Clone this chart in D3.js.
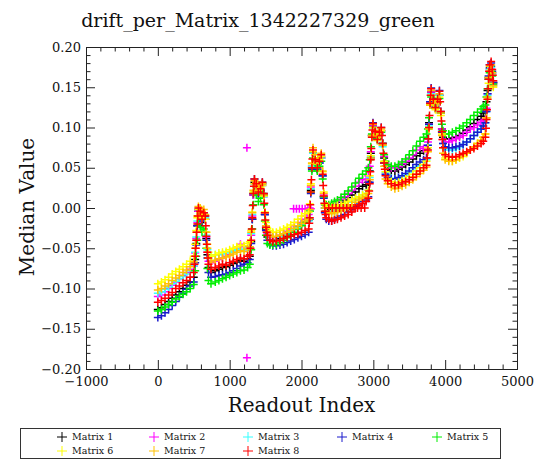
<!DOCTYPE html>
<html>
<head>
<meta charset="utf-8">
<script src="https://cdn.jsdelivr.net/npm/d3@7"></script>
<style>
  body { margin: 0; background: #fff; }
  text { font-family: "DejaVu Serif", serif; fill: #111; }
</style>
</head>
<body>
<svg width="535" height="459"></svg>
<script>
// readout index sampled along the curve (denser on the spikes)
const readout = [
  0, 50, 100, 150, 200, 250, 300, 350, 400, 450, 500,
  520, 535, 550, 565, 590, 615, 640, 660, 675, 690, 705,
  740, 800, 850, 900, 950, 1000, 1050, 1100, 1150, 1200, 1250,
  1280, 1300, 1315, 1330, 1345, 1370, 1400, 1430, 1455, 1475, 1490, 1505, 1525,
  1560, 1600, 1650, 1700, 1750, 1800, 1850, 1900, 1950, 2000, 2050, 2100,
  2115, 2130, 2145, 2160, 2190, 2220, 2250, 2275, 2295, 2310, 2325, 2345,
  2380, 2420, 2460, 2500, 2550, 2600, 2650, 2700, 2750, 2800, 2850, 2900,
  2930, 2950, 2965, 2980, 2995, 3025, 3055, 3085, 3110, 3130, 3150, 3170,
  3200, 3250, 3300, 3350, 3400, 3450, 3500, 3550, 3600, 3650, 3700, 3740,
  3760, 3775, 3790, 3805, 3835, 3865, 3895, 3920, 3940, 3955, 3970,
  4000, 4050, 4100, 4150, 4200, 4250, 4300, 4350, 4400, 4450, 4500, 4530, 4560,
  4575, 4590, 4605, 4620, 4640, 4655, 4670
];

const m1 = [
  -0.126,-0.124,-0.120,-0.116,-0.112,-0.108,-0.104,-0.100,-0.096,-0.092,-0.086,
  -0.064,-0.044,-0.022,-0.004,-0.008,-0.018,-0.010,-0.014,-0.038,-0.058,-0.074,
  -0.080,-0.078,-0.076,-0.074,-0.073,-0.071,-0.069,-0.067,-0.065,-0.066,-0.063,
  -0.060,-0.042,-0.014,0.016,0.032,0.026,0.018,0.022,0.030,0.016,-0.008,-0.026,-0.036,
  -0.040,-0.041,-0.040,-0.038,-0.035,-0.032,-0.029,-0.026,-0.023,-0.020,-0.017,-0.015,
  -0.004,0.022,0.050,0.068,0.058,0.048,0.056,0.062,0.040,0.014,0.000,-0.004,
  -0.002,0.000,0.002,0.004,0.007,0.010,0.013,0.016,0.020,0.024,0.027,0.029,
  0.032,0.046,0.068,0.090,0.102,0.094,0.086,0.092,0.096,0.080,0.062,0.052,
  0.048,0.046,0.046,0.048,0.051,0.054,0.057,0.061,0.065,0.068,0.071,0.074,
  0.086,0.106,0.130,0.144,0.132,0.124,0.132,0.140,0.118,0.098,0.088,
  0.086,0.086,0.087,0.088,0.090,0.093,0.097,0.101,0.105,0.110,0.114,0.118,0.120,
  0.132,0.146,0.162,0.174,0.176,0.168,0.156
];
const m2 = [
  -0.110,-0.108,-0.104,-0.100,-0.096,-0.092,-0.088,-0.084,-0.080,-0.076,-0.072,
  -0.056,-0.038,-0.018,-0.004,-0.008,-0.016,-0.010,-0.014,-0.036,-0.055,-0.066,
  -0.068,-0.066,-0.064,-0.062,-0.060,-0.058,-0.055,-0.050,-0.045,-0.048,-0.052,
  -0.050,-0.034,-0.010,0.016,0.030,0.026,0.018,0.022,0.028,0.014,-0.008,-0.024,-0.032,
  -0.036,-0.037,-0.036,-0.034,-0.032,-0.029,-0.026,-0.022,-0.018,-0.014,-0.010,-0.008,
  0.000,0.026,0.052,0.068,0.058,0.050,0.056,0.062,0.040,0.016,0.004,0.002,
  0.002,0.004,0.006,0.008,0.011,0.014,0.018,0.022,0.027,0.032,0.035,0.036,
  0.040,0.052,0.070,0.090,0.102,0.094,0.086,0.092,0.096,0.080,0.064,0.056,
  0.052,0.050,0.050,0.052,0.055,0.058,0.062,0.066,0.072,0.076,0.074,0.072,
  0.082,0.104,0.130,0.144,0.132,0.124,0.132,0.140,0.118,0.098,0.085,
  0.082,0.082,0.084,0.086,0.088,0.090,0.094,0.098,0.100,0.103,0.106,0.108,0.110,
  0.124,0.142,0.160,0.172,0.174,0.166,0.154
];
const m3 = [
  -0.106,-0.104,-0.101,-0.098,-0.094,-0.091,-0.088,-0.085,-0.082,-0.078,-0.072,
  -0.055,-0.036,-0.016,-0.002,-0.006,-0.014,-0.008,-0.012,-0.034,-0.052,-0.062,
  -0.060,-0.058,-0.058,-0.057,-0.056,-0.055,-0.053,-0.052,-0.051,-0.052,-0.050,
  -0.048,-0.032,-0.008,0.018,0.030,0.026,0.018,0.022,0.028,0.014,-0.008,-0.022,-0.030,
  -0.034,-0.036,-0.036,-0.035,-0.033,-0.031,-0.029,-0.027,-0.024,-0.021,-0.018,-0.016,
  -0.004,0.024,0.052,0.068,0.058,0.050,0.056,0.062,0.040,0.014,0.000,-0.004,
  -0.004,-0.004,-0.003,-0.002,0.000,0.002,0.004,0.007,0.010,0.013,0.016,0.018,
  0.022,0.038,0.064,0.088,0.100,0.092,0.084,0.090,0.094,0.076,0.056,0.044,
  0.040,0.037,0.036,0.037,0.039,0.041,0.044,0.047,0.051,0.053,0.057,0.060,
  0.078,0.102,0.130,0.142,0.132,0.124,0.132,0.140,0.118,0.096,0.080,
  0.074,0.072,0.072,0.074,0.076,0.079,0.082,0.086,0.090,0.094,0.098,0.102,0.106,
  0.120,0.140,0.160,0.172,0.175,0.166,0.152
];
const m4 = [
  -0.136,-0.134,-0.130,-0.126,-0.121,-0.116,-0.111,-0.106,-0.101,-0.097,-0.092,
  -0.068,-0.046,-0.022,-0.002,-0.006,-0.016,-0.006,-0.010,-0.040,-0.062,-0.080,
  -0.086,-0.085,-0.084,-0.083,-0.082,-0.080,-0.078,-0.075,-0.072,-0.070,-0.068,
  -0.064,-0.044,-0.014,0.018,0.036,0.028,0.018,0.022,0.032,0.018,-0.008,-0.028,-0.040,
  -0.045,-0.047,-0.047,-0.046,-0.045,-0.043,-0.041,-0.039,-0.037,-0.035,-0.033,-0.030,
  -0.014,0.018,0.048,0.070,0.058,0.048,0.056,0.064,0.040,0.012,-0.006,-0.014,
  -0.016,-0.016,-0.014,-0.012,-0.010,-0.008,-0.005,-0.002,0.002,0.005,0.008,0.010,
  0.014,0.032,0.062,0.090,0.106,0.096,0.086,0.094,0.100,0.080,0.056,0.042,
  0.038,0.036,0.036,0.038,0.040,0.043,0.046,0.050,0.054,0.057,0.060,0.062,
  0.078,0.104,0.132,0.149,0.136,0.126,0.136,0.146,0.120,0.094,0.080,
  0.076,0.075,0.075,0.076,0.077,0.079,0.082,0.086,0.090,0.094,0.098,0.102,0.106,
  0.120,0.142,0.164,0.178,0.180,0.170,0.156
];
const m5 = [
  -0.128,-0.126,-0.123,-0.120,-0.117,-0.113,-0.110,-0.107,-0.104,-0.100,-0.095,
  -0.078,-0.060,-0.040,-0.020,-0.024,-0.030,-0.026,-0.030,-0.050,-0.075,-0.090,
  -0.094,-0.092,-0.090,-0.088,-0.086,-0.084,-0.082,-0.080,-0.078,-0.077,-0.074,
  -0.070,-0.052,-0.026,0.004,0.020,0.016,0.008,0.012,0.018,0.004,-0.016,-0.034,-0.044,
  -0.046,-0.046,-0.045,-0.043,-0.040,-0.037,-0.034,-0.030,-0.026,-0.022,-0.018,-0.014,
  -0.004,0.020,0.046,0.062,0.054,0.046,0.052,0.058,0.036,0.014,0.004,0.004,
  0.004,0.006,0.008,0.010,0.013,0.017,0.021,0.026,0.031,0.037,0.042,0.046,
  0.050,0.060,0.076,0.092,0.100,0.092,0.086,0.090,0.094,0.080,0.066,0.058,
  0.054,0.052,0.052,0.054,0.057,0.061,0.066,0.071,0.077,0.083,0.088,0.092,
  0.098,0.112,0.128,0.138,0.130,0.124,0.130,0.136,0.118,0.104,0.096,
  0.092,0.092,0.094,0.096,0.099,0.102,0.106,0.110,0.115,0.119,0.123,0.126,0.128,
  0.138,0.148,0.160,0.168,0.170,0.164,0.154
];
const m6 = [
  -0.094,-0.092,-0.089,-0.086,-0.082,-0.079,-0.076,-0.073,-0.070,-0.066,-0.060,
  -0.045,-0.028,-0.012,-0.002,-0.006,-0.012,-0.008,-0.014,-0.030,-0.045,-0.055,
  -0.060,-0.058,-0.056,-0.055,-0.054,-0.052,-0.050,-0.048,-0.046,-0.047,-0.044,
  -0.042,-0.028,-0.005,0.020,0.030,0.028,0.022,0.025,0.028,0.015,-0.005,-0.018,-0.025,
  -0.028,-0.030,-0.030,-0.028,-0.026,-0.024,-0.021,-0.018,-0.014,-0.010,-0.007,-0.005,
  0.005,0.030,0.055,0.070,0.062,0.055,0.060,0.064,0.045,0.020,0.005,0.002,
  0.002,0.001,0.002,0.003,0.004,0.006,0.008,0.010,0.012,0.014,0.016,0.018,
  0.022,0.040,0.065,0.088,0.100,0.092,0.084,0.090,0.096,0.078,0.058,0.045,
  0.036,0.033,0.031,0.032,0.034,0.036,0.039,0.042,0.046,0.050,0.054,0.058,
  0.075,0.100,0.128,0.140,0.130,0.122,0.130,0.138,0.115,0.092,0.075,
  0.062,0.060,0.058,0.060,0.062,0.064,0.068,0.072,0.076,0.080,0.084,0.088,0.092,
  0.112,0.135,0.155,0.170,0.172,0.165,0.150
];
const m7 = [
  -0.102,-0.100,-0.097,-0.094,-0.090,-0.087,-0.084,-0.080,-0.077,-0.073,-0.067,
  -0.050,-0.030,-0.010,0.002,0.000,-0.008,-0.002,-0.008,-0.030,-0.050,-0.062,
  -0.067,-0.065,-0.063,-0.062,-0.061,-0.059,-0.057,-0.055,-0.053,-0.054,-0.051,
  -0.048,-0.030,-0.006,0.022,0.034,0.032,0.026,0.028,0.030,0.016,-0.006,-0.022,-0.030,
  -0.034,-0.036,-0.035,-0.034,-0.032,-0.030,-0.028,-0.025,-0.022,-0.019,-0.016,-0.014,
  -0.002,0.028,0.056,0.075,0.066,0.058,0.062,0.068,0.046,0.018,0.000,-0.004,
  -0.006,-0.007,-0.006,-0.005,-0.003,-0.001,0.002,0.004,0.007,0.010,0.012,0.014,
  0.018,0.035,0.062,0.090,0.104,0.096,0.088,0.094,0.098,0.078,0.052,0.036,
  0.030,0.026,0.024,0.025,0.027,0.029,0.032,0.035,0.039,0.043,0.047,0.051,
  0.070,0.098,0.128,0.146,0.134,0.124,0.132,0.142,0.118,0.090,0.068,
  0.060,0.058,0.058,0.060,0.063,0.066,0.069,0.072,0.076,0.080,0.084,0.088,0.092,
  0.112,0.138,0.162,0.176,0.178,0.168,0.152
];
const m8 = [
  -0.117,-0.115,-0.112,-0.108,-0.105,-0.100,-0.097,-0.093,-0.090,-0.086,-0.080,
  -0.060,-0.040,-0.020,0.000,-0.004,-0.014,-0.006,-0.010,-0.035,-0.055,-0.070,
  -0.076,-0.074,-0.072,-0.070,-0.071,-0.068,-0.066,-0.064,-0.062,-0.063,-0.060,
  -0.058,-0.040,-0.012,0.018,0.036,0.030,0.020,0.024,0.032,0.018,-0.006,-0.024,-0.034,
  -0.040,-0.042,-0.041,-0.040,-0.038,-0.036,-0.035,-0.033,-0.032,-0.030,-0.028,-0.026,
  -0.012,0.020,0.050,0.072,0.060,0.050,0.058,0.066,0.042,0.015,-0.004,-0.012,
  -0.014,-0.016,-0.015,-0.014,-0.012,-0.010,-0.008,-0.005,0.000,0.003,0.006,0.008,
  0.012,0.030,0.060,0.088,0.105,0.095,0.085,0.094,0.100,0.080,0.056,0.040,
  0.034,0.030,0.028,0.029,0.031,0.033,0.035,0.038,0.042,0.046,0.050,0.053,
  0.072,0.100,0.130,0.148,0.135,0.125,0.135,0.145,0.120,0.095,0.075,
  0.066,0.064,0.063,0.064,0.066,0.068,0.070,0.072,0.074,0.077,0.080,0.083,0.088,
  0.110,0.135,0.160,0.178,0.182,0.172,0.158
];

// stray readouts: outliers and the flat streak of Matrix 2
const extra2 = [[1240, 0.075], [1240, -0.186], [1890, -0.001], [1930, -0.001], [1970, -0.001],
  [2010, -0.001], [2050, -0.001], [2090, -0.001], [2130, -0.001]];
// Matrix 8: flat streak after the third spike, and the red spike walls
const extra8 = [[2380, 0.0], [2430, 0.0], [2480, 0.0], [2530, 0.0], [2580, 0.0], [2630, 0.0],
  [2680, 0.0], [2730, 0.0], [2780, 0.0], [2830, 0.0], [2880, 0.0],
  [510, -0.070], [528, -0.050], [542, -0.030], [557, -0.010], [668, -0.022], [682, -0.045], [698, -0.062],
  [1290, -0.050], [1308, -0.026], [1322, 0.003], [1338, 0.027], [1482, 0.006], [1497, -0.015], [1515, -0.030],
  [2108, -0.019], [2122, 0.004], [2138, 0.035], [2152, 0.061], [2302, 0.028], [2318, 0.006], [2335, -0.008],
  [2942, 0.021], [2958, 0.045], [2972, 0.074], [2988, 0.097], [3120, 0.090], [3140, 0.068], [3160, 0.048],
  [3750, 0.062], [3768, 0.086], [3782, 0.115], [3798, 0.140], [3930, 0.132], [3948, 0.108], [3962, 0.085],
  [4568, 0.099], [4582, 0.122], [4598, 0.148], [4612, 0.170], [4662, 0.165]];

const names = ["Matrix 1", "Matrix 2", "Matrix 3", "Matrix 4", "Matrix 5", "Matrix 6", "Matrix 7", "Matrix 8"];
const colors = ["#000000", "#ff00ff", "#33ffff", "#1a1acc", "#00ee00", "#ffff00", "#ffc000", "#ff0000"];

const xTicks = [-1000, 0, 1000, 2000, 3000, 4000, 5000];
const yTicks = [-0.20, -0.15, -0.10, -0.05, 0.00, 0.05, 0.10, 0.15, 0.20];

const svg = d3.select("svg");
const x = d3.scaleLinear().domain([-1000, 5000]).range([86, 517]);
const y = d3.scaleLinear().domain([-0.2, 0.2]).range([369, 47]);

const xMinor = d3.range(-1000, 5001, 200).filter(v => v % 1000 !== 0);
const yMinor = d3.range(-20, 21).filter(v => v % 5 !== 0).map(v => v / 100);

// points first, frame on top
const extras = [[], extra2, [], [], [], [], [], extra8];
const series = [m1, m2, m3, m4, m5, m6, m7, m8].map((vals, i) => ({
  name: names[i],
  color: colors[i],
  points: readout.map((r, j) => [r, vals[j]]).filter(p => p[1] != null).concat(extras[i])
}));

const cross = "M-4,0H4M0,-4V4";
svg.append("g")
  .selectAll("g")
  .data(series)
  .join("g")
  .attr("stroke", d => d.color)
  .attr("stroke-width", 1.5)
  .selectAll("path")
  .data(d => d.points)
  .join("path")
  .attr("d", cross)
  .attr("transform", p => `translate(${x(p[0])},${y(p[1])})`);

function styleAxis(g) {
  g.selectAll("path, line").attr("stroke", "#222").attr("stroke-width", 1);
  g.selectAll("text").attr("font-family", "DejaVu Serif").attr("font-size", 13).attr("fill", "#111");
}

// bottom
svg.append("g").attr("transform", "translate(0,369)")
  .call(d3.axisBottom(x).tickValues(xMinor).tickSize(-4.5).tickSizeOuter(0).tickFormat(""))
  .call(styleAxis);
svg.append("g").attr("transform", "translate(0,369)")
  .call(d3.axisBottom(x).tickValues(xTicks).tickSize(-9).tickSizeOuter(0).tickPadding(8).tickFormat(d3.format("d")))
  .call(styleAxis);
// top
svg.append("g").attr("transform", "translate(0,47)")
  .call(d3.axisTop(x).tickValues(xMinor).tickSize(-4.5).tickSizeOuter(0).tickFormat(""))
  .call(styleAxis);
svg.append("g").attr("transform", "translate(0,47)")
  .call(d3.axisTop(x).tickValues(xTicks).tickSize(-9).tickSizeOuter(0).tickFormat(""))
  .call(styleAxis);
// left
svg.append("g").attr("transform", "translate(86,0)")
  .call(d3.axisLeft(y).tickValues(yMinor).tickSize(-4.5).tickSizeOuter(0).tickFormat(""))
  .call(styleAxis);
svg.append("g").attr("transform", "translate(86,0)")
  .call(d3.axisLeft(y).tickValues(yTicks).tickSize(-9).tickSizeOuter(0).tickPadding(5).tickFormat(d3.format(".2f")))
  .call(styleAxis);
// right
svg.append("g").attr("transform", "translate(517,0)")
  .call(d3.axisRight(y).tickValues(yMinor).tickSize(-4.5).tickSizeOuter(0).tickFormat(""))
  .call(styleAxis);
svg.append("g").attr("transform", "translate(517,0)")
  .call(d3.axisRight(y).tickValues(yTicks).tickSize(-9).tickSizeOuter(0).tickFormat(""))
  .call(styleAxis);

// titles
svg.append("text")
  .attr("x", 258).attr("y", 27)
  .attr("text-anchor", "middle")
  .style("font-size", "19px")
  .text("drift_per_Matrix_1342227329_green");

svg.append("text")
  .attr("x", 301.5).attr("y", 412)
  .attr("text-anchor", "middle")
  .style("font-size", "20px")
  .text("Readout Index");

svg.append("text")
  .attr("transform", "translate(34,207) rotate(-90)")
  .attr("text-anchor", "middle")
  .style("font-size", "20px")
  .text("Median Value");

// legend
const legX = [62, 154, 248, 342, 437];
const legY = [437, 451];
svg.append("rect")
  .attr("x", 20.5).attr("y", 428.5)
  .attr("width", 480).attr("height", 30)
  .attr("fill", "none").attr("stroke", "#333");

const leg = svg.append("g")
  .selectAll("g")
  .data(series)
  .join("g")
  .attr("transform", (d, i) => `translate(${legX[i % 5]},${legY[Math.floor(i / 5)]})`);
leg.append("path")
  .attr("d", "M-5,0H5M0,-5V5")
  .attr("stroke", d => d.color)
  .attr("stroke-width", 1);
leg.append("text")
  .attr("x", 10).attr("dy", "0.35em")
  .style("font-size", "9.5px")
  .text(d => d.name);
</script>
</body>
</html>
